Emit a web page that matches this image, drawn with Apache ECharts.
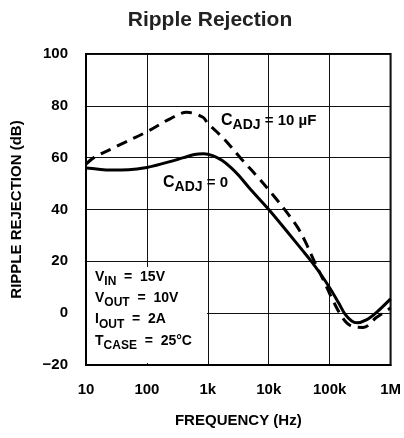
<!DOCTYPE html>
<html>
<head>
<meta charset="utf-8">
<script src="https://cdn.jsdelivr.net/npm/echarts@6/dist/echarts.min.js"></script>
<style>
html,body{margin:0;padding:0;background:#fff;}
#chart{width:404px;height:438px;}
</style>
</head>
<body>
<div id="chart"></div>
<script>
// ---- data ----
var titleText = 'Ripple Rejection';
var xAxisName = 'FREQUENCY (Hz)';
var yAxisName = 'RIPPLE REJECTION (dB)';
var xTickValues = [10, 100, 1000, 10000, 100000, 1000000];
var xTickLabels = ['10', '100', '1k', '10k', '100k', '1M'];
var yTickValues = [-20, 0, 20, 40, 60, 80, 100];
var yTickLabels = ['\u221220', '0', '20', '40', '60', '80', '100'];

// C_ADJ = 0 (solid)
var freqSolid = [10, 15, 25, 50, 100, 200, 400, 600, 850, 1200, 1700, 2400, 3200, 5000, 10000, 20000, 35000, 50000, 70000, 100000, 140000, 180000, 230000, 280000, 400000, 600000, 1000000];
var dbSolid   = [56, 55.6, 55.2, 55.3, 56.2, 58, 60, 61.2, 61.5, 60.8, 59, 56.2, 53.2, 47.8, 40, 31.5, 24.5, 20, 15.3, 9.8, 4, -0.5, -3, -3.7, -2.6, 0.5, 5.5];

// C_ADJ = 10 uF (dashed)
var freqDashed = [10, 13.5, 32, 100, 240, 450, 830, 1000, 1400, 1900, 3550, 6600, 12300, 20400, 30000, 40000, 56000, 80000, 110000, 160000, 220000, 355000, 590000, 1000000];
var dbDashed   = [57.5, 60, 64.4, 70, 75, 77.5, 75.6, 73.2, 70, 66.9, 59.5, 52.5, 45, 38.5, 33, 27.5, 20, 12.5, 5.5, -1.5, -4.8, -5.5, -1.6, 2];

var labelSolid = ['C', 'ADJ', ' = 0'];
var labelDashed = ['C', 'ADJ', ' = 10 \u00b5F'];
var params = [['V', 'IN', '  =  15V'], ['V', 'OUT', '  =  10V'], ['I', 'OUT', '  =  2A'], ['T', 'CASE', '  =  25\u00b0C']];

// ---- chart ----
var SANS = "'Liberation Sans', Arial, sans-serif";
function pairs(xs, ys) { return xs.map(function (x, i) { return [x, ys[i]]; }); }
function paramLine(p) { return '{m|' + p[0] + '}{s|' + p[1] + '}{m|' + p[2] + '}{h| }'; }
function capLine(p) { return '{c|' + p[0] + '}{t|' + p[1] + '}{r|' + p[2] + '}{h| }'; }
var paramRich = {
  m: { fontSize: 14, fontWeight: 'bold', fontFamily: SANS, lineHeight: 14, fill: '#000' },
  s: { fontSize: 12, fontWeight: 'bold', fontFamily: SANS, lineHeight: 12, verticalAlign: 'bottom', fill: '#000' },
  h: { fontSize: 1, lineHeight: 21.3 }
};
var capRich = {
  c: { fontSize: 16, fontWeight: 'bold', fontFamily: SANS, lineHeight: 16, fill: '#000' },
  t: { fontSize: 14, fontWeight: 'bold', fontFamily: SANS, lineHeight: 14, verticalAlign: 'bottom', fill: '#000' },
  r: { fontSize: 15, fontWeight: 'bold', fontFamily: SANS, lineHeight: 15, fill: '#000' },
  h: { fontSize: 1, lineHeight: 21.4 }
};

var chart = echarts.init(document.getElementById('chart'), null, { renderer: 'canvas' });
chart.setOption({
  animation: false,
  backgroundColor: '#fff',
  title: {
    text: titleText, left: 205, top: 5, textAlign: 'center',
    textStyle: { fontFamily: SANS, fontWeight: 'bold', fontSize: 21, color: '#222' }
  },
  grid: { left: 86, top: 54, width: 308, height: 311, show: true, borderColor: '#000', borderWidth: 2, backgroundColor: 'transparent' },
  xAxis: {
    type: 'log', logBase: 10, min: 10, max: 1000000,
    name: xAxisName, nameLocation: 'middle', nameGap: 48,
    nameTextStyle: { fontFamily: SANS, fontWeight: 'bold', fontSize: 15, color: '#000' },
    axisLine: { show: true, onZero: false, lineStyle: { color: '#000', width: 2 } },
    axisTick: { show: false },
    splitLine: { show: true, lineStyle: { color: '#111', width: 1 } },
    axisLabel: {
      margin: 17, fontFamily: SANS, fontWeight: 'bold', fontSize: 15, color: '#000',
      formatter: function (v) { var i = xTickValues.indexOf(Math.round(v)); return i >= 0 ? xTickLabels[i] : ''; }
    }
  },
  yAxis: {
    type: 'value', min: -20, max: 100, interval: 20,
    name: yAxisName, nameLocation: 'middle', nameGap: 62, nameRotate: 90,
    nameTextStyle: { fontFamily: SANS, fontWeight: 'bold', fontSize: 15, color: '#000' },
    axisLine: { show: true, onZero: false, lineStyle: { color: '#000', width: 2 } },
    axisTick: { show: false },
    splitLine: { show: true, lineStyle: { color: '#111', width: 1 } },
    axisLabel: {
      margin: 18, fontFamily: SANS, fontWeight: 'bold', fontSize: 15, color: '#000',
      formatter: function (v) { var i = yTickValues.indexOf(v); return i >= 0 ? yTickLabels[i] : ''; }
    }
  },
  series: [
    { type: 'line', name: 'CADJ=0', data: pairs(freqSolid, dbSolid), smooth: 0.35, showSymbol: false, symbol: 'none',
      lineStyle: { color: '#000', width: 3 }, z: 5 },
    { type: 'line', name: 'CADJ=10uF', data: pairs(freqDashed, dbDashed), smooth: 0.35, showSymbol: false, symbol: 'none',
      lineStyle: { color: '#000', width: 3, type: [11, 7] }, z: 5 }
  ],
  graphic: [
    { type: 'rect', left: 87, top: 267, shape: { width: 120, height: 96 }, style: { fill: '#fff' }, z: 3 },
    { type: 'text', left: 95, top: 270, z: 10,
      style: { text: params.map(paramLine).join('\n'), rich: paramRich } },
    { type: 'text', left: 221, top: 113, z: 10,
      style: { text: capLine(labelDashed), rich: capRich } },
    { type: 'text', left: 163, top: 175, z: 10,
      style: { text: capLine(labelSolid), rich: capRich } }
  ]
});
</script>
</body>
</html>
